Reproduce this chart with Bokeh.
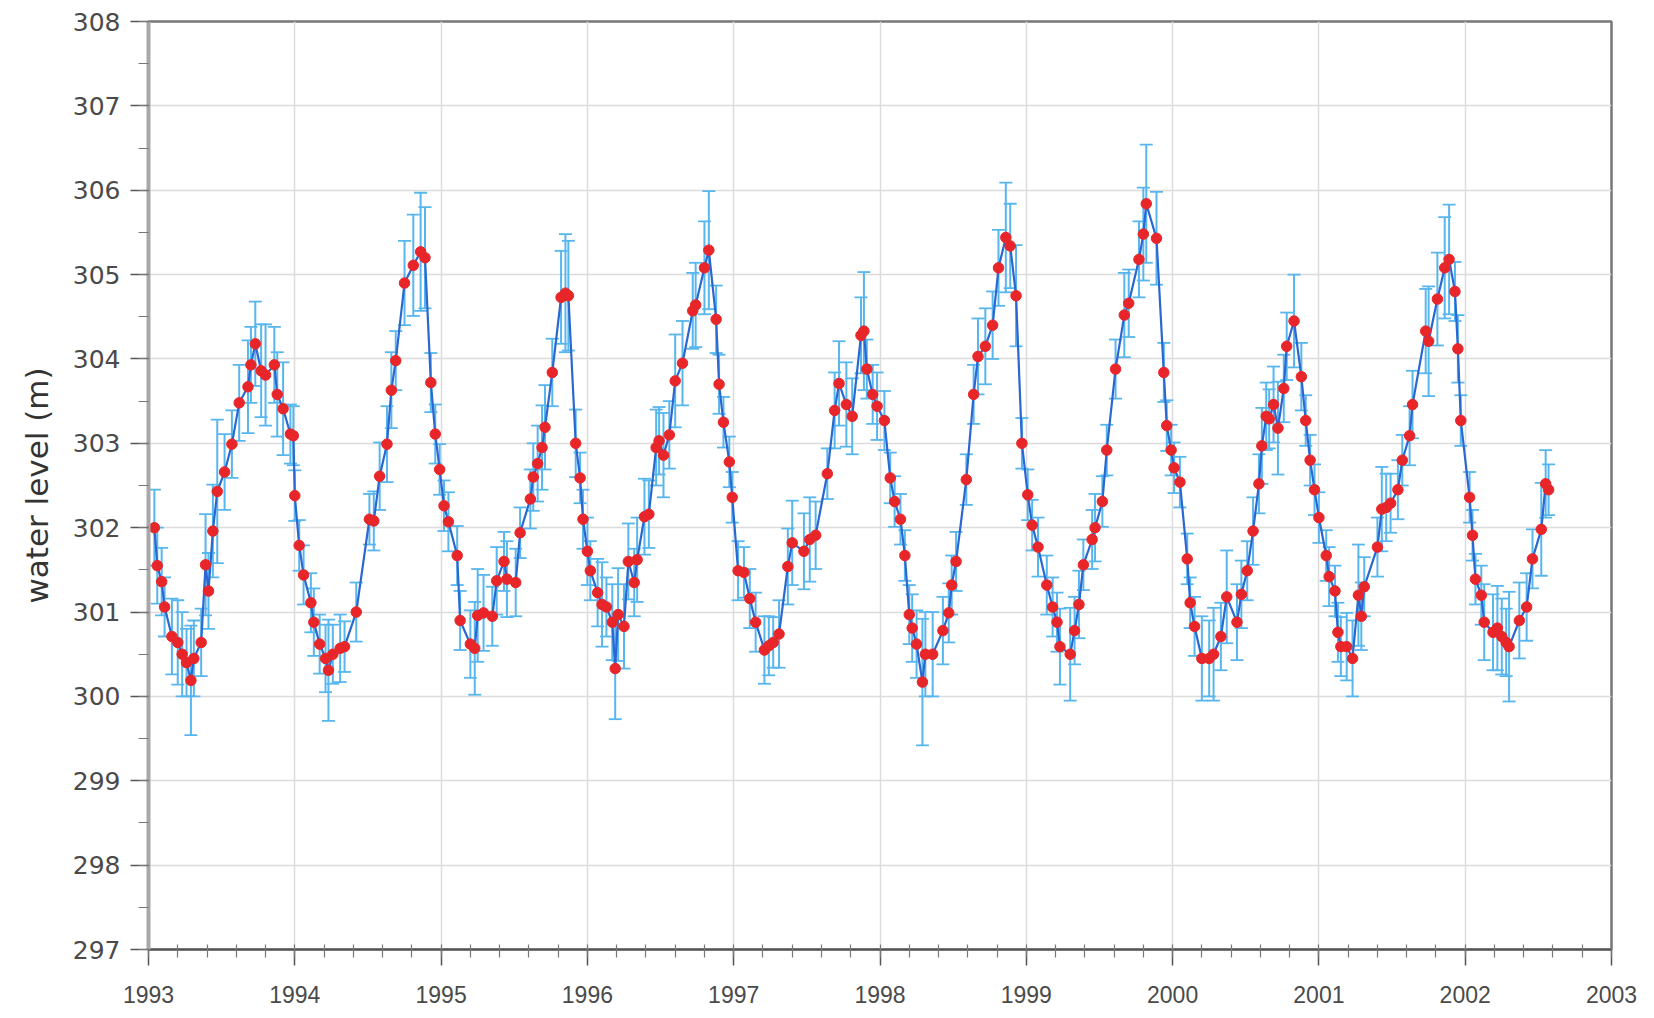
from bokeh.plotting import figure
from bokeh.models import ColumnDataSource, Whisker, TeeHead, FixedTicker, Range1d
from bokeh.embed import file_html
from bokeh.resources import INLINE

# ---- data (decimal year, water level in m, error in m) ----
dates = [
    1993.04, 1993.06, 1993.09, 1993.11, 1993.16, 1993.20, 1993.23, 1993.26, 1993.29, 1993.31, 1993.36, 1993.39, 1993.41, 1993.44, 1993.47, 1993.52, 1993.57, 1993.62, 1993.68, 1993.70, 1993.73, 1993.77, 1993.80, 1993.86, 1993.88, 1993.92, 1993.97, 1993.99,
    1994.00, 1994.03, 1994.06, 1994.11, 1994.13, 1994.17, 1994.21, 1994.23, 1994.26, 1994.31, 1994.34, 1994.42, 1994.51, 1994.54, 1994.58, 1994.63, 1994.66, 1994.69, 1994.75, 1994.81, 1994.86, 1994.89, 1994.93, 1994.96, 1994.99,
    1995.02, 1995.05, 1995.11, 1995.13, 1995.20, 1995.23, 1995.25, 1995.29, 1995.35, 1995.38, 1995.43, 1995.45, 1995.51, 1995.54, 1995.61, 1995.63, 1995.66, 1995.69, 1995.71, 1995.76, 1995.82, 1995.85, 1995.87, 1995.92, 1995.95, 1995.97,
    1996.00, 1996.02, 1996.07, 1996.10, 1996.13, 1996.17, 1996.19, 1996.21, 1996.25, 1996.28, 1996.32, 1996.34, 1996.39, 1996.42, 1996.47, 1996.49, 1996.52, 1996.56, 1996.60, 1996.65, 1996.72, 1996.74, 1996.80, 1996.83, 1996.88, 1996.90, 1996.93, 1996.97, 1996.99,
    1997.03, 1997.07, 1997.11, 1997.15, 1997.21, 1997.24, 1997.27, 1997.31, 1997.37, 1997.40, 1997.48, 1997.52, 1997.56, 1997.64, 1997.69, 1997.72, 1997.77, 1997.81, 1997.87, 1997.89, 1997.91, 1997.95, 1997.98,
    1998.03, 1998.07, 1998.10, 1998.14, 1998.17, 1998.20, 1998.22, 1998.25, 1998.29, 1998.31, 1998.36, 1998.43, 1998.47, 1998.49, 1998.52, 1998.59, 1998.64, 1998.67, 1998.72, 1998.77, 1998.81, 1998.86, 1998.89, 1998.93, 1998.97,
    1999.01, 1999.04, 1999.08, 1999.14, 1999.18, 1999.21, 1999.23, 1999.30, 1999.33, 1999.36, 1999.39, 1999.45, 1999.47, 1999.52, 1999.55, 1999.61, 1999.67, 1999.70, 1999.77, 1999.80, 1999.82, 1999.89, 1999.94, 1999.96, 1999.99,
    2000.01, 2000.05, 2000.10, 2000.12, 2000.15, 2000.20, 2000.25, 2000.28, 2000.33, 2000.37, 2000.44, 2000.47, 2000.51, 2000.55, 2000.59, 2000.61, 2000.64, 2000.66, 2000.69, 2000.72, 2000.76, 2000.78, 2000.83, 2000.88, 2000.91, 2000.94, 2000.97,
    2001.00, 2001.05, 2001.07, 2001.11, 2001.13, 2001.15, 2001.19, 2001.23, 2001.27, 2001.29, 2001.31, 2001.40, 2001.43, 2001.46, 2001.49, 2001.54, 2001.57, 2001.62, 2001.64, 2001.73, 2001.75, 2001.81, 2001.86, 2001.89, 2001.93, 2001.95, 2001.97,
    2002.03, 2002.05, 2002.07, 2002.11, 2002.13, 2002.19, 2002.22, 2002.25, 2002.28, 2002.30, 2002.37, 2002.42, 2002.46, 2002.52, 2002.55, 2002.57,
]

levels = [
    302.00, 301.55, 301.36, 301.06, 300.71, 300.64, 300.50, 300.40, 300.19, 300.45, 300.64, 301.56, 301.25, 301.96, 302.43, 302.66, 302.99, 303.48, 303.67, 303.93, 304.18, 303.86, 303.81, 303.93, 303.58, 303.41, 303.11, 303.09,
    302.38, 301.79, 301.44, 301.11, 300.88, 300.62, 300.45, 300.31, 300.50, 300.57, 300.59, 301.00, 302.10, 302.08, 302.61, 302.99, 303.63, 303.98, 304.90, 305.11, 305.27, 305.20, 303.72, 303.11, 302.69,
    302.26, 302.07, 301.67, 300.90, 300.62, 300.57, 300.96, 300.99, 300.95, 301.37, 301.60, 301.39, 301.35, 301.94, 302.34, 302.60, 302.76, 302.95, 303.19, 303.84, 304.73, 304.78, 304.75, 303.00, 302.59, 302.10,
    301.72, 301.49, 301.23, 301.09, 301.06, 300.88, 300.33, 300.97, 300.83, 301.60, 301.35, 301.62, 302.13, 302.16, 302.95, 303.03, 302.86, 303.10, 303.74, 303.95, 304.57, 304.64, 305.08, 305.29, 304.47, 303.70, 303.25, 302.78, 302.36,
    301.49, 301.47, 301.16, 300.88, 300.55, 300.60, 300.64, 300.74, 301.54, 301.82, 301.72, 301.86, 301.91, 302.64, 303.39, 303.71, 303.46, 303.32, 304.28, 304.33, 303.88, 303.58, 303.44,
    303.27, 302.59, 302.31, 302.10, 301.67, 300.97, 300.81, 300.62, 300.17, 300.50, 300.50, 300.78, 300.99, 301.32, 301.60, 302.57, 303.58, 304.03, 304.15, 304.40, 305.08, 305.44, 305.34, 304.75, 303.00,
    302.39, 302.03, 301.77, 301.32, 301.06, 300.88, 300.59, 300.50, 300.78, 301.09, 301.56, 301.86, 302.00, 302.31, 302.92, 303.88, 304.52, 304.66, 305.18, 305.48, 305.84, 305.43, 303.84, 303.21, 302.92,
    302.71, 302.54, 301.63, 301.11, 300.83, 300.45, 300.45, 300.50, 300.71, 301.18, 300.88, 301.21, 301.49, 301.96, 302.52, 302.97, 303.32, 303.29, 303.46, 303.18, 303.65, 304.15, 304.45, 303.79, 303.27, 302.80, 302.45,
    302.12, 301.67, 301.42, 301.25, 300.76, 300.59, 300.59, 300.45, 301.20, 300.95, 301.30, 301.77, 302.22, 302.24, 302.29, 302.45, 302.80, 303.09, 303.46, 304.33, 304.21, 304.71, 305.08, 305.18, 304.80, 304.12, 303.27,
    302.36, 301.91, 301.39, 301.20, 300.88, 300.76, 300.81, 300.71, 300.64, 300.59, 300.90, 301.06, 301.63, 301.98, 302.52, 302.45,
]

errors = [
    0.45, 0.45, 0.40, 0.35, 0.45, 0.50, 0.50, 0.40, 0.65, 0.45, 0.40, 0.60, 0.45, 0.55, 0.85, 0.45, 0.40, 0.45, 0.55, 0.45, 0.50, 0.55, 0.60, 0.45, 0.50, 0.55, 0.35, 0.35,
    0.30, 0.30, 0.35, 0.35, 0.40, 0.35, 0.40, 0.60, 0.35, 0.40, 0.30, 0.35, 0.30, 0.35, 0.40, 0.45, 0.45, 0.35, 0.50, 0.60, 0.70, 0.60, 0.35, 0.35, 0.30,
    0.30, 0.35, 0.35, 0.35, 0.40, 0.55, 0.55, 0.45, 0.35, 0.40, 0.35, 0.45, 0.40, 0.30, 0.35, 0.40, 0.45, 0.50, 0.50, 0.40, 0.55, 0.70, 0.65, 0.40, 0.30, 0.35,
    0.40, 0.35, 0.40, 0.50, 0.35, 0.45, 0.60, 0.55, 0.50, 0.45, 0.40, 0.50, 0.45, 0.40, 0.45, 0.40, 0.50, 0.40, 0.55, 0.50, 0.45, 0.50, 0.55, 0.70, 0.40, 0.35, 0.30, 0.30, 0.30,
    0.35, 0.30, 0.35, 0.35, 0.40, 0.35, 0.30, 0.40, 0.45, 0.50, 0.45, 0.50, 0.40, 0.30, 0.45, 0.50, 0.50, 0.45, 0.45, 0.70, 0.35, 0.35, 0.40,
    0.35, 0.30, 0.30, 0.30, 0.30, 0.35, 0.40, 0.40, 0.75, 0.50, 0.50, 0.40, 0.35, 0.35, 0.35, 0.30, 0.35, 0.45, 0.45, 0.40, 0.45, 0.65, 0.50, 0.60, 0.30,
    0.30, 0.30, 0.35, 0.35, 0.35, 0.35, 0.45, 0.55, 0.40, 0.40, 0.30, 0.35, 0.40, 0.30, 0.30, 0.35, 0.50, 0.40, 0.45, 0.55, 0.70, 0.55, 0.35, 0.30, 0.30,
    0.30, 0.30, 0.30, 0.30, 0.35, 0.50, 0.45, 0.55, 0.40, 0.55, 0.45, 0.40, 0.35, 0.40, 0.35, 0.45, 0.40, 0.35, 0.45, 0.55, 0.40, 0.40, 0.55, 0.40, 0.30, 0.30, 0.30,
    0.30, 0.30, 0.35, 0.30, 0.35, 0.35, 0.40, 0.45, 0.60, 0.40, 0.35, 0.35, 0.50, 0.40, 0.35, 0.35, 0.30, 0.35, 0.40, 0.50, 0.65, 0.55, 0.60, 0.65, 0.35, 0.40, 0.30,
    0.30, 0.30, 0.30, 0.35, 0.45, 0.45, 0.50, 0.45, 0.40, 0.65, 0.45, 0.40, 0.35, 0.55, 0.40, 0.30,
]

year_ticks = list(range(1993, 2004))
level_ticks = list(range(297, 309))
y_label = "water level (m)"

# ---- build ----
n = min(len(dates), len(levels), len(errors))
src = ColumnDataSource(dict(
    t=dates[:n],
    v=levels[:n],
    up=[levels[i] + errors[i] for i in range(n)],
    lo=[levels[i] - errors[i] for i in range(n)],
))

p = figure(width=1654, height=1018, output_backend="svg", toolbar_location=None,
           x_range=Range1d(1993, 2003), y_range=Range1d(297, 308),
           min_border_left=148, min_border_right=43, min_border_top=21, min_border_bottom=69,
           background_fill_color="white", border_fill_color="white")

p.outline_line_color = "#777777"
p.outline_line_width = 2.5

# grid
p.xgrid.grid_line_color = "#dcdcdc"
p.ygrid.grid_line_color = "#dcdcdc"
p.xgrid.grid_line_width = 1.5
p.ygrid.grid_line_width = 1.5

# error bars
bar_color = "#58b6ee"
wh = Whisker(base="t", upper="up", lower="lo", source=src, dimension="height",
             line_color=bar_color, line_width=2,
             upper_head=TeeHead(size=13, line_color=bar_color, line_width=1.8),
             lower_head=TeeHead(size=13, line_color=bar_color, line_width=1.8))
p.add_layout(wh)

p.line("t", "v", source=src, line_color="#2a67d0", line_width=2.2)
p.scatter("t", "v", source=src, size=10.5, fill_color="#e8262a", line_color="#e8262a")

# axes
p.xaxis.ticker = FixedTicker(ticks=year_ticks,
                             minor_ticks=[1993 + i * 0.2 for i in range(51)])
p.yaxis.ticker = FixedTicker(ticks=level_ticks,
                             minor_ticks=[297 + i * 0.5 for i in range(23)])
p.xaxis.formatter.use_scientific = False

for ax in (p.xaxis, p.yaxis):
    ax.major_label_text_color = "#4a4a4a"
    ax.major_tick_line_color = "#555555"
    ax.minor_tick_line_color = "#777777"
    ax.major_tick_line_width = 1.5
    ax.minor_tick_line_width = 1.2

p.xaxis.major_label_text_font = "Liberation Sans"
p.xaxis.major_label_text_font_size = "23px"
p.xaxis.axis_line_color = "#555555"
p.xaxis.axis_line_width = 2
p.xaxis.major_tick_in = 0
p.xaxis.major_tick_out = 16
p.xaxis.minor_tick_in = 5
p.xaxis.minor_tick_out = 8
p.xaxis.major_label_standoff = 20

p.yaxis.major_label_text_font = "DejaVu Sans"
p.yaxis.major_label_text_font_size = "25px"
p.yaxis.axis_line_color = "#a8a8a8"
p.yaxis.axis_line_width = 4
p.yaxis.major_tick_in = 0
p.yaxis.major_tick_out = 18
p.yaxis.minor_tick_in = 0
p.yaxis.minor_tick_out = 10
p.yaxis.major_label_standoff = 10
p.yaxis.axis_label = y_label
p.yaxis.axis_label_text_font = "DejaVu Sans"
p.yaxis.axis_label_text_font_size = "31px"
p.yaxis.axis_label_text_font_style = "normal"
p.yaxis.axis_label_text_color = "#333333"
p.yaxis.axis_label_standoff = 15

open("out.html", "w").write(file_html(p, INLINE))
